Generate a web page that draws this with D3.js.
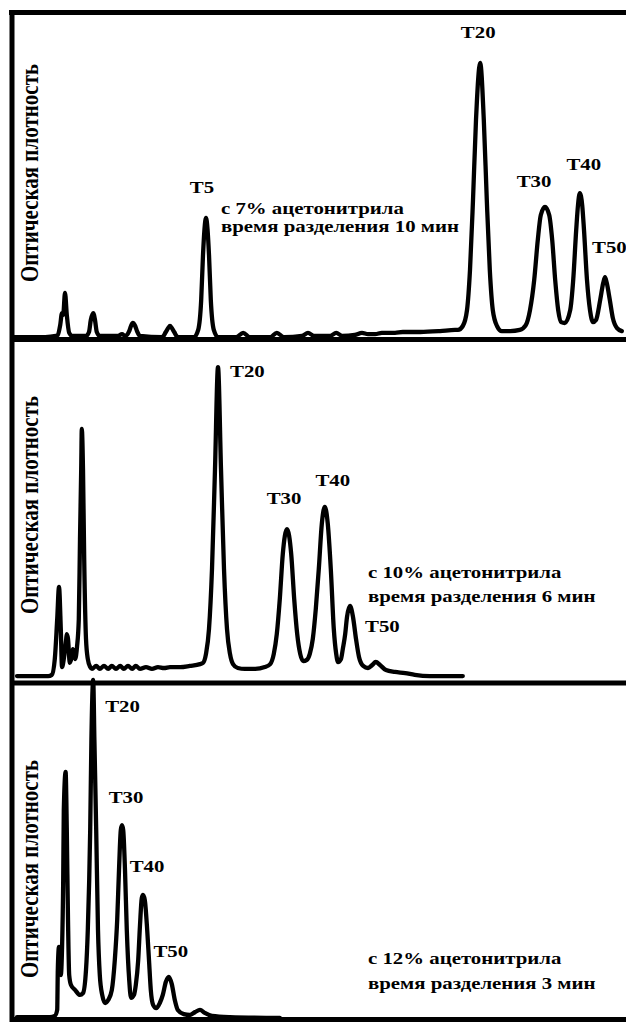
<!DOCTYPE html>
<html lang="ru">
<head>
<meta charset="utf-8">
<title>Хроматограммы</title>
<script src="https://cdn.jsdelivr.net/npm/d3@7"></script>
<style>
  html, body { margin: 0; padding: 0; background: #fff; }
  svg { display: block; }
  text { font-family: "Liberation Serif", "Times New Roman", serif; font-weight: bold; fill: #000; }
</style>
</head>
<body>
<svg id="chart" width="626" height="1025"></svg>
<script>
// retention (arbitrary units) and absorbance (arbitrary units)
const time7 = [0, 5.2, 7, 7.3, 7.7, 8, 8.2, 8.5, 8.8, 9.2, 9.7, 12, 12.5, 12.8, 13.2, 13.5, 13.8, 14.3,
  17.3, 18, 18.5, 19.2, 19.5, 19.8, 20.2, 20.5, 21, 24.7, 25.3, 25.7, 26, 26.3, 26.7, 27.3,
  30, 30.7, 31.2, 31.5, 32, 32.5, 32.8, 33.3, 34, 37, 38.2, 39.3, 42.7, 43.8, 45, 48, 49, 50,
  52.7, 53.7, 54.7, 56.8, 58, 59, 60.2, 61.3, 62.3, 63.5, 64.8, 67.7, 71, 73.5,
  74, 74.8, 75.5, 76, 76.5, 77, 77.7, 78.3, 78.8, 79.3, 79.8, 80.5, 81.3, 82.7, 84.3,
  85.3, 86, 86.7, 87.3, 87.8, 88.5, 89.2, 89.7, 90.2, 90.7, 91.2, 91.8,
  92.7, 93.2, 93.7, 94, 94.3, 94.7, 95, 95.5, 96, 96.5, 97,
  97.7, 98.2, 98.5, 98.8, 99.3, 99.8, 100.5, 101.3];
const abs7 = [0.3, 0.3, 0.7, 1, 4.3, 8.3, 7.7, 15, 7.7, 1.7, 0.7, 0.7, 2, 6, 8.3, 6, 2, 0.7,
  0.7, 1.3, 0.7, 2.3, 4, 5, 4, 2.3, 0.7, 0.3, 2, 3.3, 4, 3.3, 2, 0.3,
  0.3, 2.7, 12.7, 27.7, 40, 27.7, 12.7, 2.7, 0.3, 0.3, 1.7, 0.3, 0.3, 1.7, 0.3, 0.7, 1.7, 0.7,
  0.7, 1.7, 0.7, 1, 1.7, 1.3, 1.3, 1.7, 1.7, 1.7, 2, 2, 2.3, 2.7,
  2.7, 4, 9.3, 22.7, 46, 72.7, 91.7, 72.7, 46, 22.7, 9.3, 4, 2.3, 2.3, 2.7,
  4.3, 9.3, 19.3, 32.7, 41, 43.7, 41, 32.7, 19.3, 9.3, 5.3, 5,
  9.3, 19.3, 36, 44.3, 48.3, 44.3, 36, 19.3, 9.3, 5.3, 6,
  12.7, 18.3, 20.3, 18.3, 12.7, 6.7, 3.3, 2.3];

const time10 = [0.5, 5.7, 6.3, 6.8, 7.2, 7.5, 7.8, 8, 8.3, 8.7, 8.8, 9, 9.3, 9.7, 9.8, 10, 10.2, 10.5,
  10.8, 11, 11.2, 11.3, 11.5, 11.7, 12, 12.3, 12.7,
  13, 13.7, 14.3, 15, 15.7, 16.3, 17, 17.7, 18.3, 19, 19.7, 20.3, 21, 22, 23, 24, 25, 26, 27.7, 29.3, 31,
  31.5, 32, 32.5, 33, 33.5, 34, 34.5, 35, 35.5, 36, 36.5, 37.3, 38.5, 40.2, 41.8,
  42.7, 43.3, 43.8, 44.3, 44.8, 45.5, 46.2, 46.7, 47.2, 47.7, 48.2, 48.8,
  49.3, 49.8, 50.3, 50.8, 51.3, 51.8, 52.3, 52.8, 53.3, 53.7, 54, 54.5,
  54.8, 55.2, 55.5, 56, 56.5, 57, 57.5, 58.2, 59, 59.7, 60.3, 61, 62, 63.5, 65.2, 66.8, 69.3, 74.8];
const abs10 = [0.3, 0.3, 0.7, 6, 19.3, 30, 16, 3.3, 6, 12.7, 14.3, 12.7, 4.7, 7.7, 9.3, 7.7, 6, 10,
  19.3, 46, 69.3, 82.7, 69.3, 39.3, 12.7, 6, 3.3,
  2.7, 3.7, 2.7, 3.7, 2.7, 3.7, 2.7, 3.7, 2.7, 3.7, 2.7, 3.7, 2.7, 3.3, 2.7, 3.3, 3, 3.3, 3.3, 3.7, 4.3,
  4.7, 7.7, 16, 36, 69.3, 103.3, 69.3, 36, 16, 7.7, 4.3, 3, 2.7, 2.7, 3.3,
  4.3, 7.7, 14.3, 26, 41, 49.3, 41, 26, 14.3, 7.7, 5.3, 5.7,
  7.7, 12.7, 22.7, 36, 51, 56.7, 51, 36, 16, 7.7, 5, 6,
  9.3, 14.3, 20, 23.7, 20, 12.7, 6.7, 3.7, 3, 4, 5, 4, 2.3, 1.7, 1.3, 0.7, 0.3, 0.3];

const time12 = [0.5, 6, 6.8, 7.2, 7.3, 7.5, 7.7, 7.8, 8, 8.2, 8.3, 8.6, 8.8, 9, 9.2, 9.5, 10.2, 11, 11.5,
  12, 12.3, 12.7, 12.9, 13.2, 13.4, 13.7, 14, 14.3, 14.7, 15.2, 15.7,
  16.3, 16.8, 17.2, 17.5, 17.8, 18, 18.2, 18.5, 18.8, 19.2, 19.5, 20,
  20.3, 20.7, 21, 21.3, 21.5, 21.8, 22.2, 22.5, 22.8, 23.2, 23.7, 24.3,
  24.8, 25.3, 25.8, 26.3, 26.8, 27.3, 28.3, 29.3, 30.2, 31, 31.8, 33, 36, 44.3];
const abs12 = [0.3, 0.3, 0.7, 2.7, 16, 23.7, 19.3, 14.3, 22.7, 46, 69.3, 82, 62.7, 32.7, 14.3, 11, 9.3, 7.7, 8.3,
  16, 29.3, 62.7, 92.7, 112.7, 92.7, 62.7, 29.3, 14.3, 7.7, 5, 6,
  9.3, 19.3, 32.7, 49.3, 62.7, 64.3, 62.7, 49.3, 29.3, 12.7, 6.7, 7.7,
  11, 19.3, 31, 40, 41, 39.3, 29.3, 19.3, 9.3, 4.3, 3.3, 5,
  7.7, 12, 13.7, 11.3, 6, 2.7, 1.3, 1, 2, 2.7, 1.7, 0.7, 0.3, 0];

// peak names and the retention of each apex
const peaks7 = ["T5", "T20", "T30", "T40", "T50"];
const apex7 = [32, 77.7, 88.5, 94.3, 98.5];
const peaks10 = ["T20", "T30", "T40", "T50"];
const apex10 = [34, 45.5, 51.8, 56];
const peaks12 = ["T20", "T30", "T40", "T50"];
const apex12 = [13.2, 18, 21.5, 25.8];

const note7 = ["с 7% ацетонитрила", "время разделения 10 мин"];
const note10 = ["с 10% ацетонитрила", "время разделения 6 мин"];
const note12 = ["с 12% ацетонитрила", "время разделения 3 мин"];
const yTitle = "Оптическая плотность";

// layout (pixels)
const W = 626, H = 1025;
const panels = [
  { time: time7, abs: abs7, names: peaks7, apex: apex7, note: note7,
    base: 338, axisY: 339.5, noteX: 221, noteY: [214, 232], titleY: 173,
    offs: [[-4, -25, "middle"], [-2, -25, "middle"], [-11, -20, "middle"], [4, -23, "middle"], [-13, -24, "start"]] },
  { time: time10, abs: abs10, names: peaks10, apex: apex10, note: note10,
    base: 677, axisY: 683, noteX: 368, noteY: [578, 602], titleY: 505,
    offs: [[12, 10, "start"], [-3, -25, "middle"], [8, -21, "middle"], [15, 26, "start"]] },
  { time: time12, abs: abs12, names: peaks12, apex: apex12, note: note12,
    base: 1018, axisY: 1019.5, noteX: 368, noteY: [964, 989], titleY: 869,
    offs: [[12, 32, "start"], [4, -22, "middle"], [4, -23, "middle"], [2, -20, "middle"]] }
];

const svg = d3.select("#chart");
svg.append("rect").attr("width", W).attr("height", H).attr("fill", "#fff");

const x = d3.scaleLinear().domain([0, 102]).range([14, W]);
const sx = 1.19; // figure is stretched horizontally

// frame: top and left
svg.append("line").attr("x1", 9).attr("x2", W).attr("y1", 12.5).attr("y2", 12.5)
  .attr("stroke", "#000").attr("stroke-width", 5);
svg.append("line").attr("x1", 12).attr("x2", 12).attr("y1", 10).attr("y2", 1022)
  .attr("stroke", "#000").attr("stroke-width", 5);

panels.forEach(p => {
  const y = d3.scaleLinear().domain([0, 110]).range([p.base, p.base - 330]);
  const g = svg.append("g");

  const pts = p.time.map((t, i) => [t, p.abs[i]]);
  g.append("path")
    .datum(pts)
    .attr("fill", "none")
    .attr("stroke", "#000")
    .attr("stroke-width", 4.3)
    .attr("stroke-linejoin", "round")
    .attr("stroke-linecap", "round")
    .attr("d", d3.line().x(d => x(d[0])).y(d => y(d[1])).curve(d3.curveMonotoneX));

  // bottom axis line
  g.append("line").attr("x1", 12).attr("x2", W).attr("y1", p.axisY).attr("y2", p.axisY)
    .attr("stroke", "#000").attr("stroke-width", 5);

  // peak labels
  p.names.forEach((name, i) => {
    const t = p.apex[i];
    const k = d3.minIndex(p.time, v => Math.abs(v - t));
    const [dx, dy, anchor] = p.offs[i];
    g.append("text")
      .attr("transform", `translate(${x(t) + dx},${y(p.abs[k]) + dy}) scale(${sx},1)`)
      .attr("text-anchor", anchor)
      .attr("font-size", 17.5)
      .text(name);
  });

  // condition note
  p.note.forEach((line, i) => {
    g.append("text")
      .attr("transform", `translate(${p.noteX},${p.noteY[i]}) scale(${sx},1)`)
      .attr("font-size", 17.5)
      .text(line);
  });

  // y title
  g.append("text")
    .attr("transform", `translate(37.5,${p.titleY}) scale(${sx},1) rotate(-90)`)
    .attr("text-anchor", "middle")
    .attr("font-size", 21)
    .text(yTitle);
});
</script>
</body>
</html>
